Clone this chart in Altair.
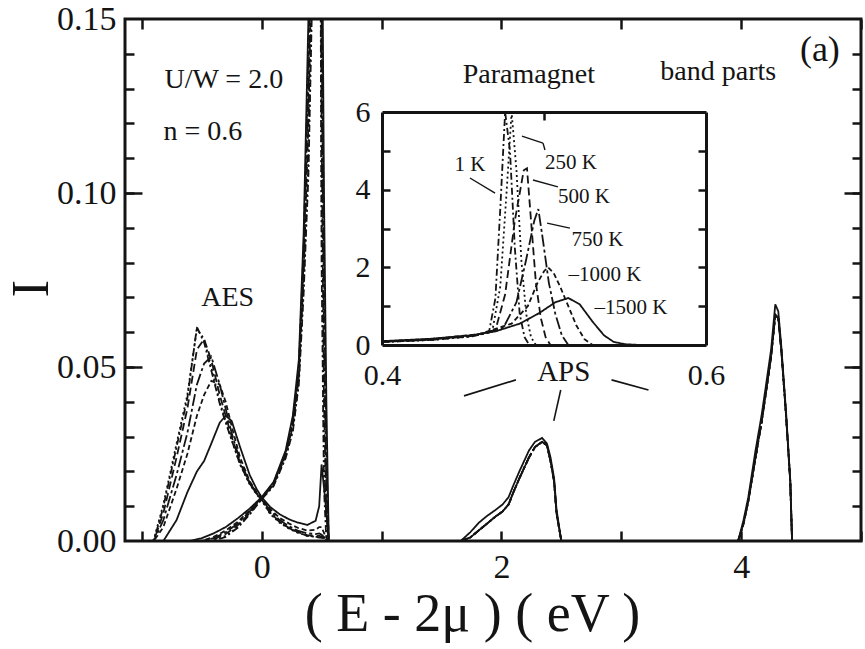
import altair as alt
import pandas as pd

# ---------------- data ----------------
TEMPS = ["1 K", "250 K", "500 K", "750 K", "1000 K", "1500 K"]

# AES part (main panel)
AES_X = [-0.95, -0.9, -0.82, -0.71, -0.62, -0.54, -0.48, -0.42, -0.35, -0.3, -0.25, -0.18, -0.1,
         -0.04, 0.0, 0.07, 0.15, 0.23, 0.3, 0.38, 0.45, 0.48, 0.5, 0.53, 0.56]
AES_1K = [0, 0, 0.0098, 0.027, 0.041, 0.0615, 0.057, 0.049, 0.0395, 0.034, 0.029, 0.022, 0.0165,
          0.0135, 0.0118, 0.008, 0.0055, 0.0037, 0.0025, 0.0015, 0.0012, 0.001, 0.001, 0.0005, 0]
AES_250K = [0, 0.0004, 0.0105, 0.028, 0.042, 0.061, 0.058, 0.050, 0.040, 0.0345, 0.029, 0.022, 0.0163,
            0.0133, 0.0117, 0.0078, 0.0052, 0.0035, 0.0024, 0.0015, 0.0012, 0.0012, 0.001, 0.0005, 0]
AES_500K = [0, 0, 0.008, 0.024, 0.038, 0.055, 0.058, 0.052, 0.042, 0.036, 0.030, 0.0225, 0.0165,
            0.0135, 0.012, 0.0082, 0.0055, 0.0037, 0.0026, 0.0017, 0.0014, 0.0015, 0.0012, 0.0006, 0]
AES_750K = [0, 0, 0.006, 0.019, 0.031, 0.045, 0.051, 0.053, 0.045, 0.038, 0.031, 0.023, 0.0168,
            0.0137, 0.0122, 0.0087, 0.006, 0.0042, 0.003, 0.0022, 0.002, 0.0022, 0.0018, 0.0008, 0]
AES_1000K = [0, 0, 0.004, 0.015, 0.025, 0.036, 0.042, 0.046, 0.045, 0.040, 0.033, 0.024, 0.0172,
             0.014, 0.0124, 0.0092, 0.0066, 0.005, 0.0038, 0.003, 0.0032, 0.004, 0.004, 0.0015, 0]
AES_1500K = [0, 0, 0, 0.006, 0.014, 0.020, 0.023, 0.028, 0.034, 0.036, 0.0345, 0.027, 0.019,
             0.0148, 0.0126, 0.0098, 0.0077, 0.0062, 0.0053, 0.0046, 0.0058, 0.010, 0.022, 0.012, 0]

# APS main peak (main panel)
APS_X = [-0.6, -0.5, -0.4, -0.3, -0.2, -0.1, 0.0, 0.1, 0.2, 0.26, 0.31, 0.35, 0.39, 0.43, 0.47,
         0.5, 0.52, 0.54, 0.56]
APS_1K = [0, 0, 0, 0.0012, 0.0038, 0.0076, 0.012, 0.0158, 0.0238, 0.0315, 0.045, 0.071, 0.105,
          0.17, 0.38, 0.08, 0.015, 0, 0]
APS_250K = [0, 0, 0, 0.0015, 0.004, 0.0078, 0.0121, 0.016, 0.024, 0.032, 0.046, 0.073, 0.11,
            0.18, 0.36, 0.1, 0.025, 0.003, 0]
APS_500K = [0, 0, 0.0005, 0.002, 0.0045, 0.008, 0.0122, 0.0162, 0.0245, 0.033, 0.047, 0.076, 0.12,
            0.19, 0.33, 0.12, 0.04, 0.008, 0]
APS_750K = [0, 0, 0.0008, 0.0025, 0.005, 0.0085, 0.0123, 0.0165, 0.025, 0.034, 0.049, 0.08, 0.13,
            0.2, 0.3, 0.15, 0.06, 0.015, 0]
APS_1000K = [0, 0, 0.0012, 0.003, 0.0055, 0.0088, 0.0124, 0.0167, 0.0255, 0.035, 0.05, 0.084, 0.14,
             0.21, 0.28, 0.17, 0.08, 0.025, 0]
APS_1500K = [0, 0.0008, 0.0022, 0.004, 0.0065, 0.0093, 0.0126, 0.017, 0.026, 0.036, 0.052, 0.088, 0.15,
             0.22, 0.26, 0.2, 0.1, 0.04, 0]

# band parts (main panel)
BAND1_X = [1.66, 1.74, 1.81, 1.88, 1.95, 2.01, 2.06, 2.1, 2.15, 2.19, 2.23, 2.28, 2.34, 2.38, 2.41,
           2.44, 2.46, 2.5]
BAND1_HIGH_T = [0, 0.0025, 0.0052, 0.0072, 0.0089, 0.0105, 0.0126, 0.016, 0.020, 0.023, 0.026, 0.0285,
                0.0296, 0.028, 0.024, 0.018, 0.009, 0]
BAND1_LOW_T = [0, 0.001, 0.003, 0.005, 0.007, 0.0085, 0.0105, 0.014, 0.018, 0.021, 0.024, 0.027,
               0.0285, 0.0275, 0.023, 0.017, 0.008, 0]
BAND2_X = [3.975, 4.02, 4.06, 4.12, 4.17, 4.2, 4.25, 4.285, 4.31, 4.335, 4.375, 4.41, 4.425]
BAND2_HIGH_T = [0, 0.006, 0.0126, 0.026, 0.036, 0.043, 0.055, 0.068, 0.066, 0.056, 0.037, 0.0175, 0]
BAND2_LOW_T = [0, 0.005, 0.0115, 0.024, 0.034, 0.041, 0.053, 0.065, 0.064, 0.055, 0.036, 0.017, 0]

# inset (APS peak, 0.4 - 0.6 eV)
INS_1K_X = [0.40, 0.43, 0.455, 0.466, 0.470, 0.473, 0.476, 0.479, 0.482, 0.485, 0.488, 0.491]
INS_1K_Y = [0.08, 0.13, 0.22, 0.32, 1.2, 3.5, 6.5, 5.0, 2.5, 0.8, 0.2, 0]
INS_250K_X = [0.40, 0.43, 0.455, 0.468, 0.473, 0.477, 0.480, 0.483, 0.486, 0.489, 0.492, 0.495]
INS_250K_Y = [0.08, 0.13, 0.22, 0.34, 1.5, 4.0, 6.2, 4.5, 2.2, 0.8, 0.2, 0]
INS_500K_X = [0.40, 0.43, 0.455, 0.47, 0.476, 0.482, 0.4875, 0.4895, 0.492, 0.495, 0.498, 0.501, 0.504]
INS_500K_Y = [0.08, 0.13, 0.23, 0.38, 1.3, 3.2, 4.5, 4.55, 3.2, 1.6, 0.7, 0.2, 0]
INS_750K_X = [0.40, 0.43, 0.46, 0.475, 0.483, 0.489, 0.494, 0.4965, 0.499, 0.503, 0.507, 0.511, 0.515]
INS_750K_Y = [0.08, 0.14, 0.26, 0.45, 1.1, 2.2, 3.2, 3.5, 2.8, 1.6, 0.8, 0.25, 0]
INS_1000K_X = [0.40, 0.43, 0.46, 0.48, 0.49, 0.496, 0.5, 0.5025, 0.506, 0.51, 0.515, 0.52, 0.525, 0.53]
INS_1000K_Y = [0.09, 0.15, 0.28, 0.55, 1.0, 1.6, 1.9, 2.0, 1.85, 1.5, 1.0, 0.5, 0.15, 0]
INS_1500K_X = [0.40, 0.43, 0.455, 0.47, 0.485, 0.497, 0.507, 0.515, 0.522, 0.53, 0.537, 0.543, 0.55, 0.56]
INS_1500K_Y = [0.1, 0.16, 0.25, 0.35, 0.55, 0.82, 1.1, 1.21, 1.05, 0.6, 0.25, 0.08, 0.02, 0]

# text annotations (main panel, data coordinates)
NOTE_TEXT = ["U/W = 2.0", "n = 0.6", "AES", "Paramagnet", "band parts", "(a)", "APS"]
NOTE_X = [-0.316, -0.491, -0.283, 2.229, 3.809, 4.657, 2.52]
NOTE_Y = [0.1325, 0.1175, 0.0698, 0.1339, 0.1348, 0.1411, 0.0486]
NOTE_SIZE = [28, 28, 28, 28, 28, 36, 29]
# APS pointer lines
PTR_X1 = [1.688, 2.495, 2.919]
PTR_Y1 = [0.0417, 0.0434, 0.0463]
PTR_X2 = [2.121, 2.437, 3.227]
PTR_Y2 = [0.0463, 0.0345, 0.0434]

# inset temperature labels and leaders (inset coordinates)
TLAB_TEXT = ["1 K", "250 K", "500 K", "750 K", "\u20131000 K", "\u20131500 K"]
TLAB_X = [0.4543, 0.5167, 0.5247, 0.5330, 0.5377, 0.5537]
TLAB_Y = [4.64, 4.69, 3.81, 2.70, 1.80, 0.95]
LEAD_X1 = [0.4543, 0.4864, 0.4994, 0.4932, 0.5019]
LEAD_Y1 = [4.30, 5.38, 5.20, 4.25, 3.14]
LEAD_X2 = [0.4698, 0.4994, 0.5006, 0.5086, 0.5160]
LEAD_Y2 = [3.91, 5.20, 5.02, 4.07, 3.01]

DASHES = [[7, 3, 2, 3], [2, 3], [8, 4], [12, 3, 3, 3], [5, 3], [1, 0]]

# ---------------- tables ----------------
def rows(xs, ys, temp, part):
    return [{"x": a, "y": b, "T": temp, "part": part} for a, b in zip(xs, ys)]

aes_rows, aps_rows, band_rows, ins_rows = [], [], [], []
for t, a, p in zip(TEMPS,
                   [AES_1K, AES_250K, AES_500K, AES_750K, AES_1000K, AES_1500K],
                   [APS_1K, APS_250K, APS_500K, APS_750K, APS_1000K, APS_1500K]):
    aes_rows += rows(AES_X, a, t, "AES")
    aps_rows += rows(APS_X, p, t, "APS")
    high = t == "1500 K"
    band_rows += rows(BAND1_X, BAND1_HIGH_T if high else BAND1_LOW_T, t, "B1")
    band_rows += rows(BAND2_X, BAND2_HIGH_T if high else BAND2_LOW_T, t, "B2")
for t, xx, yy in zip(TEMPS,
                     [INS_1K_X, INS_250K_X, INS_500K_X, INS_750K_X, INS_1000K_X, INS_1500K_X],
                     [INS_1K_Y, INS_250K_Y, INS_500K_Y, INS_750K_Y, INS_1000K_Y, INS_1500K_Y]):
    ins_rows += rows(xx, yy, t, "INS")

aes_df = pd.DataFrame(aes_rows)
aps_df = pd.DataFrame(aps_rows)
band_df = pd.DataFrame(band_rows)
ins_df = pd.DataFrame(ins_rows)
note_df = pd.DataFrame({"text": NOTE_TEXT, "x": NOTE_X, "y": NOTE_Y, "fs": NOTE_SIZE})
ptr_df = pd.DataFrame({"x": PTR_X1, "y": PTR_Y1, "x2": PTR_X2, "y2": PTR_Y2})
tlab_df = pd.DataFrame({"text": TLAB_TEXT, "x": TLAB_X, "y": TLAB_Y})
lead_df = pd.DataFrame({"x": LEAD_X1, "y": LEAD_Y1, "x2": LEAD_X2, "y2": LEAD_Y2})

# ---------------- styling ----------------
W, H = 736, 522
FONT = "Liberation Serif"
INK = "#141414"

xs = alt.Scale(domain=[-1.14, 5.0], nice=False, zero=False)
ys = alt.Scale(domain=[0, 0.15], nice=False, zero=False)
IX0, IX1, IY0, IY1 = 257, 581, 326, 93
xi = alt.Scale(domain=[0.4, 0.6], range=[IX0, IX1], nice=False, zero=False)
yi = alt.Scale(domain=[0, 6], range=[IY0, IY1], nice=False, zero=False, clamp=True)
dash = alt.StrokeDash("T:N", scale=alt.Scale(domain=TEMPS, range=DASHES), legend=None)


def ax(**kw):
    base = dict(labelFont=FONT, titleFont=FONT, domain=False, grid=False, tickColor=INK,
                labelColor=INK, titleColor=INK, tickWidth=2.5, domainColor=INK, labelFlush=False)
    base.update(kw)
    return alt.Axis(**base)


MINOR = [round(0.01 * i, 2) for i in range(1, 15)]
MAJOR = [0.05, 0.10]
INT_TICKS = [-1, 0, 1, 2, 3, 4, 5]

X_LAB = ax(orient="bottom", values=[0, 2, 4], tickSize=0, labelFontSize=34, labelPadding=9,
           title="( E - 2\u03bc )  ( eV )", titleFontSize=54, titleFontWeight="normal",
           titleX=347, titleY=89, titleAlign="center", titleBaseline="alphabetic")
Y_LAB = ax(orient="left", values=[0, 0.05, 0.10, 0.15], format=".2f", tickSize=0, labelFontSize=34,
           labelPadding=9, title="I", titleFontSize=52, titleFontWeight="normal", titleAngle=270,
           titleX=-94, titleY=269, titleAlign="center", titleBaseline="middle")
X_TOP_T = ax(orient="bottom", offset=-H, values=INT_TICKS, tickSize=10, labels=False, title=None)
X_BOT_T = ax(orient="top", offset=-H, values=INT_TICKS, tickSize=10, labels=False, title=None)
Y_L_MIN = ax(orient="right", offset=-W, values=MINOR, tickSize=9, labels=False, title=None)
Y_R_MIN = ax(orient="left", offset=-W, values=MINOR, tickSize=9, labels=False, title=None)
Y_L_MAJ = ax(orient="right", offset=-W, values=MAJOR, tickSize=17, labels=False, title=None)
Y_R_MAJ = ax(orient="left", offset=-W, values=MAJOR, tickSize=17, labels=False, title=None)

XI_LAB = ax(orient="bottom", offset=-(H - IY0), values=[0.4, 0.6], format=".1f", tickSize=0,
            labelFontSize=30, labelPadding=15, domain=True, domainWidth=3, title=None)
YI_LAB = ax(orient="left", offset=-IX0, values=[0, 2, 4, 6], format="d", tickSize=0,
            labelFontSize=30, labelPadding=12, domain=True, domainWidth=3, title=None)
XI_TOP = ax(orient="bottom", offset=-(H - IY1), values=[0.5], tickSize=8, labels=False,
            domain=True, domainWidth=3, title=None)
YI_RIGHT = ax(orient="left", offset=-IX1, values=[1, 2, 3, 4, 5], tickSize=8, labels=False,
              domain=True, domainWidth=3, title=None)
YI_LTICK = ax(orient="right", offset=-(W - IX0), values=[1, 2, 3, 4, 5], tickSize=8, labels=False,
              title=None)

LW = 1.8

# ---------------- main panel ----------------
l_aes = alt.Chart(aes_df).mark_line(clip=True, strokeWidth=LW, color=INK).encode(
    x=alt.X("x:Q", scale=xs, axis=X_LAB),
    y=alt.Y("y:Q", scale=ys, axis=Y_LAB),
    strokeDash=dash, detail="part:N")
l_aps = alt.Chart(aps_df).mark_line(clip=True, strokeWidth=LW, color=INK).encode(
    x=alt.X("x:Q", scale=xs, axis=X_TOP_T),
    y=alt.Y("y:Q", scale=ys, axis=Y_L_MIN),
    strokeDash=dash, detail="part:N")
l_band = alt.Chart(band_df).mark_line(clip=True, strokeWidth=LW, color=INK).encode(
    x=alt.X("x:Q", scale=xs, axis=X_BOT_T),
    y=alt.Y("y:Q", scale=ys, axis=Y_R_MIN),
    strokeDash=dash, detail="part:N")
l_note = alt.Chart(note_df).mark_text(font=FONT, color=INK, align="center", baseline="middle").encode(
    x=alt.X("x:Q", scale=xs, axis=None),
    y=alt.Y("y:Q", scale=ys, axis=Y_L_MAJ),
    text="text:N", size=alt.Size("fs:Q", scale=None))
l_ptr = alt.Chart(ptr_df).mark_rule(color=INK, strokeWidth=1.6).encode(
    x=alt.X("x:Q", scale=xs, axis=None),
    y=alt.Y("y:Q", scale=ys, axis=Y_R_MAJ),
    x2="x2:Q", y2="y2:Q")

main = alt.layer(l_aes, l_aps, l_band, l_note, l_ptr).resolve_axis(x="independent", y="independent")

# ---------------- inset ----------------
i_lines = alt.Chart(ins_df).mark_line(strokeWidth=LW, color=INK).encode(
    x=alt.X("x:Q", scale=xi, axis=XI_LAB),
    y=alt.Y("y:Q", scale=yi, axis=YI_LAB),
    strokeDash=dash, detail="part:N")
i_lead = alt.Chart(lead_df).mark_rule(color=INK, strokeWidth=1.4).encode(
    x=alt.X("x:Q", scale=xi, axis=XI_TOP),
    y=alt.Y("y:Q", scale=yi, axis=YI_RIGHT),
    x2="x2:Q", y2="y2:Q")
i_text = alt.Chart(tlab_df).mark_text(font=FONT, color=INK, fontSize=21, align="center",
                                       baseline="middle").encode(
    x=alt.X("x:Q", scale=xi, axis=None),
    y=alt.Y("y:Q", scale=yi, axis=YI_LTICK),
    text="text:N")

inset = alt.layer(i_lines, i_lead, i_text).resolve_axis(x="independent", y="independent")

chart = alt.layer(main, inset).resolve_scale(x="independent", y="independent").properties(
    width=W, height=H,
    autosize=alt.AutoSizeParams(type="none"),
    padding={"left": 125, "top": 19, "right": 4, "bottom": 108},
    background="white",
).configure_view(stroke=INK, strokeWidth=3)

chart.save("out.html", embed_options={"renderer": "svg", "actions": False})
